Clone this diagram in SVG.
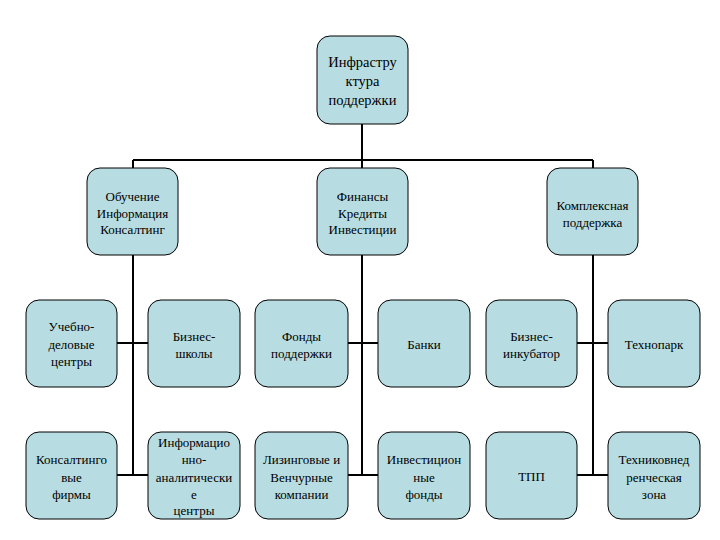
<svg xmlns="http://www.w3.org/2000/svg" width="720" height="540" viewBox="0 0 720 540">
<style>
.box{fill:#b7dde2;stroke:#000;stroke-width:1}
.t{font-size:13px;fill:#000;text-anchor:middle}
.big{font-size:14.5px}
.c{stroke:#000;stroke-width:2;fill:none}
</style>
<rect width="720" height="540" fill="#fff"/>
<g id="connectors">
<path class="c" d="M362 124V160M133 160H593M133 160V168M362 160V168M593 160V168"/>
<path class="c" d="M133 255V475M362 255V475M593 255V475"/>
<path class="c" d="M117 343H148M117 475H148M348 343H378M348 475H378M577 343H608M577 475H608"/>
</g>
<g font-family="Liberation Serif, Times New Roman, serif">
<g id="n0"><rect class="box" x="317" y="36" width="91" height="88" rx="13"/>
<text class="t big" x="362.5" y="67">Инфрастру</text><text class="t big" x="362.5" y="86">ктура</text><text class="t big" x="362.5" y="105">поддержки</text></g>
<g id="n1"><rect class="box" x="87" y="168" width="91" height="87" rx="13"/>
<text class="t" x="132.5" y="201">Обучение</text><text class="t" x="132.5" y="218">Информация</text><text class="t" x="132.5" y="234">Консалтинг</text></g>
<g id="n2"><rect class="box" x="317" y="168" width="91" height="87" rx="13"/>
<text class="t" x="362.5" y="201">Финансы</text><text class="t" x="362.5" y="218">Кредиты</text><text class="t" x="362.5" y="234">Инвестиции</text></g>
<g id="n3"><rect class="box" x="547" y="168" width="91" height="87" rx="13"/>
<text class="t" x="592.5" y="210">Комплексная</text><text class="t" x="592.5" y="227">поддержка</text></g>
<g id="n4"><rect class="box" x="26" y="300" width="91" height="87" rx="13"/>
<text class="t" x="71.5" y="331">Учебно-</text><text class="t" x="71.5" y="349">деловые</text><text class="t" x="71.5" y="366">центры</text></g>
<g id="n5"><rect class="box" x="148" y="300" width="92" height="87" rx="13"/>
<text class="t" x="194" y="341">Бизнес-</text><text class="t" x="194" y="358">школы</text></g>
<g id="n6"><rect class="box" x="255" y="300" width="93" height="87" rx="13"/>
<text class="t" x="301.5" y="341">Фонды</text><text class="t" x="301.5" y="358">поддержки</text></g>
<g id="n7"><rect class="box" x="378" y="300" width="92" height="87" rx="13"/>
<text class="t" x="424" y="349">Банки</text></g>
<g id="n8"><rect class="box" x="486" y="300" width="91" height="87" rx="13"/>
<text class="t" x="531.5" y="341">Бизнес-</text><text class="t" x="531.5" y="358">инкубатор</text></g>
<g id="n9"><rect class="box" x="608" y="300" width="92" height="87" rx="13"/>
<text class="t" x="654" y="349">Технопарк</text></g>
<g id="n10"><rect class="box" x="26" y="432" width="91" height="87" rx="13"/>
<text class="t" x="71.5" y="464">Консалтинго</text><text class="t" x="71.5" y="482">вые</text><text class="t" x="71.5" y="499">фирмы</text></g>
<g id="n11"><rect class="box" x="148" y="432" width="92" height="87" rx="13"/>
<text class="t" x="194" y="447">Информацио</text><text class="t" x="194" y="464">нно-</text><text class="t" x="194" y="482">аналитически</text><text class="t" x="194" y="499">е</text><text class="t" x="194" y="515">центры</text></g>
<g id="n12"><rect class="box" x="255" y="432" width="93" height="87" rx="13"/>
<text class="t" x="301.5" y="464">Лизинговые и</text><text class="t" x="301.5" y="482">Венчурные</text><text class="t" x="301.5" y="499">компании</text></g>
<g id="n13"><rect class="box" x="378" y="432" width="92" height="87" rx="13"/>
<text class="t" x="424" y="464">Инвестицион</text><text class="t" x="424" y="482">ные</text><text class="t" x="424" y="499">фонды</text></g>
<g id="n14"><rect class="box" x="486" y="432" width="91" height="87" rx="13"/>
<text class="t" x="531.5" y="481">ТПП</text></g>
<g id="n15"><rect class="box" x="608" y="432" width="92" height="87" rx="13"/>
<text class="t" x="654" y="464">Техниковнед</text><text class="t" x="654" y="482">ренческая</text><text class="t" x="654" y="499">зона</text></g>
</g>
</svg>
